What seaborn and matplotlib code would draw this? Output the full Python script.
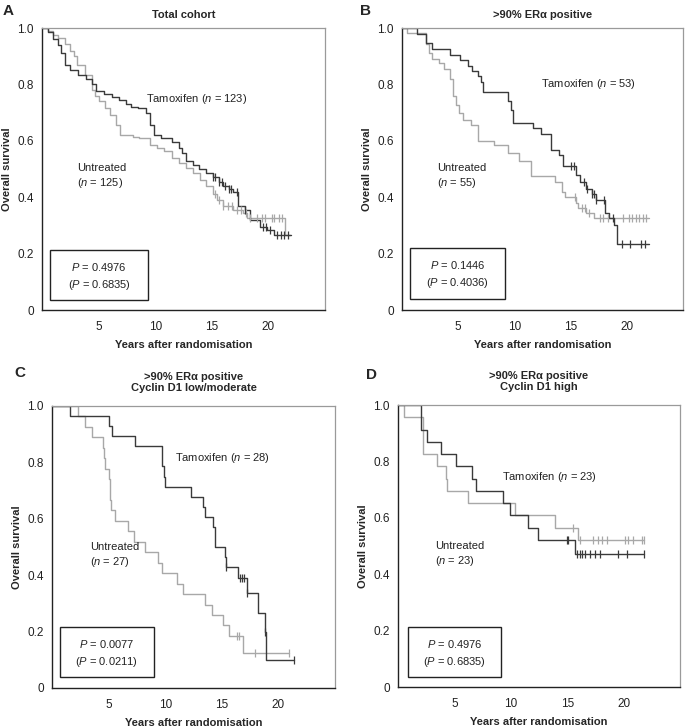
import numpy as np
import seaborn as sns
import matplotlib.pyplot as plt
from matplotlib.patches import Rectangle

sns.set_style("white")
plt.rcParams['font.family'] = ['Liberation Sans', 'DejaVu Sans']
plt.rcParams['mathtext.fontset'] = 'custom'
plt.rcParams['mathtext.rm'] = 'Liberation Sans'
plt.rcParams['mathtext.it'] = 'Liberation Sans:italic'

# Kaplan-Meier steps (time in years, survival after the step)
# A: total cohort
a_tam_t = [0, 0.5, 1.0, 1.4, 1.7, 2.0, 2.5, 3.2, 3.9, 4.4, 4.8, 5.5, 6.2, 6.8, 7.4, 7.9, 8.5, 9.2, 9.5, 9.9,
           10.5, 11.5, 12.1, 12.4, 12.7, 13.3, 13.9, 14.5, 15.1, 15.6, 16.0, 16.5, 16.9, 17.3, 17.9, 18.4,
           19.3, 19.9, 20.5, 22.0]
a_tam_s = [1.0, 0.985, 0.96, 0.94, 0.91, 0.87, 0.85, 0.835, 0.82, 0.80, 0.775, 0.765, 0.755, 0.745, 0.73,
           0.72, 0.715, 0.70, 0.655, 0.62, 0.61, 0.595, 0.575, 0.555, 0.53, 0.515, 0.50, 0.485, 0.47, 0.455,
           0.44, 0.43, 0.42, 0.37, 0.355, 0.32, 0.295, 0.285, 0.265, 0.265]
a_tam_cens = [15.1, 15.3, 15.6, 15.9, 16.2, 16.5, 16.7, 17.2, 17.9, 19.5, 19.8, 20.1, 20.8, 21.1, 21.4, 21.7]
a_unt_t = [0, 0.5, 1.0, 1.4, 2.0, 2.5, 2.8, 3.1, 3.8, 4.4, 4.7, 5.0, 5.6, 6.0, 6.5, 6.9, 8.0, 8.6, 9.5,
           10.2, 10.8, 11.5, 12.1, 12.7, 13.3, 14.0, 14.5, 15.1, 15.5, 16.0, 16.9, 17.8, 18.1, 21.5, 21.9]
a_unt_s = [1.0, 0.99, 0.975, 0.965, 0.945, 0.92, 0.9, 0.87, 0.835, 0.78, 0.76, 0.74, 0.715, 0.69, 0.655,
           0.62, 0.615, 0.61, 0.585, 0.575, 0.565, 0.54, 0.52, 0.505, 0.485, 0.46, 0.44, 0.41, 0.39, 0.37,
           0.355, 0.345, 0.325, 0.265, 0.265]
a_unt_cens = [15.3, 15.6, 16.0, 16.4, 16.8, 17.2, 17.6, 18.0, 18.4, 19.0, 19.4, 19.7, 20.3, 20.5, 20.9, 21.2]

# B: >90% ERa positive
b_tam_t = [0, 1.3, 2.1, 2.7, 4.3, 5.2, 5.9, 6.2, 6.8, 7.0, 7.2, 9.4, 9.7, 9.9, 11.65, 12.4, 13.3, 14.0,
           14.35, 15.5, 15.8, 16.4, 16.9, 17.3, 18.1, 18.4, 18.85, 19.1, 22.0]
b_tam_s = [1.0, 0.98, 0.946, 0.925, 0.906, 0.886, 0.866, 0.847, 0.83, 0.81, 0.773, 0.74, 0.71, 0.663,
           0.644, 0.624, 0.567, 0.55, 0.51, 0.479, 0.455, 0.43, 0.41, 0.39, 0.345, 0.326, 0.30, 0.235, 0.235]
b_tam_cens = [15.0, 15.3, 16.2, 16.5, 16.9, 17.1, 17.3, 18.0, 18.8, 19.6, 20.3, 21.3, 21.6]
b_unt_t = [0, 0.45, 2.1, 2.4, 2.7, 3.3, 3.7, 4.3, 4.5, 4.8, 5.05, 5.4, 6.1, 6.8, 8.2, 9.4, 10.4, 11.5,
           13.6, 14.2, 14.5, 15.5, 15.7, 16.4, 17.05, 22.0]
b_unt_s = [1.0, 0.982, 0.945, 0.91, 0.89, 0.875, 0.855, 0.82, 0.76, 0.727, 0.70, 0.674, 0.655, 0.60,
           0.585, 0.557, 0.53, 0.475, 0.455, 0.42, 0.40, 0.38, 0.36, 0.345, 0.325, 0.325]
b_unt_cens = [15.4, 16.0, 16.3, 16.6, 17.6, 17.9, 18.3, 19.7, 20.2, 20.5, 20.8, 21.1, 21.4, 21.7]

# C: >90% ERa positive, cyclin D1 low/moderate
c_tam_t = [0, 1.6, 5.0, 5.3, 7.3, 9.7, 9.85, 9.95, 12.3, 13.35, 13.5, 14.2, 14.4, 15.3, 15.4, 16.4,
           17.2, 18.2, 18.8, 18.9, 21.4]
c_tam_s = [1.0, 0.964, 0.929, 0.893, 0.857, 0.786, 0.75, 0.714, 0.678, 0.643, 0.607, 0.571, 0.50, 0.464,
           0.43, 0.39, 0.336, 0.265, 0.20, 0.10, 0.10]
c_tam_cens = [15.4, 16.6, 16.8, 17.0, 17.2, 18.8, 21.4]
c_unt_t = [0, 2.3, 2.9, 3.5, 4.5, 4.6, 4.7, 5.0, 5.1, 5.2, 5.6, 6.7, 7.2, 8.2, 9.4, 9.7, 11.0, 11.6,
           13.5, 14.1, 15.1, 15.6, 16.9, 20.9]
c_unt_s = [1.0, 0.963, 0.926, 0.889, 0.852, 0.815, 0.778, 0.741, 0.667, 0.63, 0.593, 0.556, 0.519,
           0.481, 0.444, 0.407, 0.370, 0.333, 0.296, 0.259, 0.222, 0.185, 0.123, 0.123]
c_unt_cens = [16.3, 16.5, 17.9, 20.9]

# D: >90% ERa positive, cyclin D1 high
d_tam_t = [0, 2.0, 2.6, 3.8, 5.15, 6.6, 6.9, 9.3, 9.9, 11.5, 12.4, 15.7, 21.8]
d_tam_s = [1.0, 0.913, 0.870, 0.826, 0.783, 0.739, 0.696, 0.652, 0.609, 0.565, 0.522, 0.47, 0.47]
d_tam_cens = [14.95, 15.1, 15.9, 16.1, 16.3, 16.6, 17.0, 17.5, 17.9, 19.5, 20.3, 21.8]
d_unt_t = [0, 0.55, 2.2, 3.5, 4.25, 4.3, 6.2, 10.4, 13.9, 15.95, 21.8]
d_unt_s = [1.0, 0.957, 0.826, 0.783, 0.739, 0.696, 0.652, 0.609, 0.565, 0.522, 0.522]
d_unt_cens = [15.5, 16.1, 17.3, 17.7, 18.1, 18.5, 20.1, 20.4, 20.8, 21.6, 21.8]

letters = ["A", "B", "C", "D"]
titles = ["Total cohort", ">90% ER\u03b1 positive",
          ">90% ER\u03b1 positive\nCyclin D1 low/moderate", ">90% ER\u03b1 positive\nCyclin D1 high"]
tam_n = [123, 53, 28, 23]
unt_n = [125, 55, 27, 23]
p_main = ["0.4976", "0.1446", "0.0077", "0.4976"]
p_paren = ["0.6835", "0.4036", "0.0211", "0.6835"]

curves = [
    (a_tam_t, a_tam_s, a_tam_cens, a_unt_t, a_unt_s, a_unt_cens),
    (b_tam_t, b_tam_s, b_tam_cens, b_unt_t, b_unt_s, b_unt_cens),
    (c_tam_t, c_tam_s, c_tam_cens, c_unt_t, c_unt_s, c_unt_cens),
    (d_tam_t, d_tam_s, d_tam_cens, d_unt_t, d_unt_s, d_unt_cens),
]

dark = "#3a3a3a"
light = "#a8a8a8"

fig = plt.figure(figsize=(6.85, 7.28), dpi=100)
W, H = 685, 728
# axes boxes in pixels: left, top, right, bottom
boxes = [(42, 28, 325, 310), (402, 28, 683, 310), (52, 406, 335, 688), (398, 405, 680, 687)]
letter_pos = [(3, 4), (360, 4), (14, 366), (366, 368)]
# text positions (data units)
tam_lab = [(9.2, 0.75), (12.4, 0.80), (10.9, 0.815), (9.25, 0.743)]
unt_lab = [(3.1, 0.475), (3.1, 0.475), (3.35, 0.47), (3.3, 0.47)]
box_pos = [(0.7, 0.035, 8.7, 0.178), (0.7, 0.04, 8.5, 0.18), (0.7, 0.04, 8.3, 0.177), (0.85, 0.035, 8.3, 0.178)]


def surv_at(times, surv, pts):
    idx = np.searchsorted(times, pts, side='right') - 1
    return np.array(surv)[idx]


def draw_km(ax, t, s, cens, color):
    sns.lineplot(x=t, y=s, ax=ax, color=color, drawstyle='steps-post', estimator=None, lw=1.0)
    sns.scatterplot(x=cens, y=surv_at(t, s, cens), ax=ax, marker='|', s=30, color=color,
                    linewidth=0.9, zorder=3)


for i in range(4):
    l, t, r, b = boxes[i]
    ax = fig.add_axes([l / W, 1 - b / H, (r - l) / W, (b - t) / H])
    tt, ts, tc, ut, us, uc = curves[i]
    draw_km(ax, ut, us, uc, light)
    draw_km(ax, tt, ts, tc, dark)

    ax.set_xlim(0, 25)
    ax.set_ylim(0, 1.0)
    ax.set_xticks([0, 5, 10, 15, 20, 25])
    ax.set_xticklabels(["", "5", "10", "15", "20", ""])
    ax.set_yticks([0, 0.2, 0.4, 0.6, 0.8, 1.0])
    ax.set_yticklabels(["0", "0.2", "0.4", "0.6", "0.8", "1.0"])
    ax.tick_params(axis='both', which='major', direction='out', length=3, width=1,
                   labelsize=8.5, colors='#222222')
    ax.tick_params(axis='x', pad=5)
    ax.tick_params(axis='y', pad=3)
    for side in ['left', 'bottom']:
        ax.spines[side].set_color('#222222')
        ax.spines[side].set_linewidth(1.0)
    for side in ['top', 'right']:
        ax.spines[side].set_color('#9a9a9a')
        ax.spines[side].set_linewidth(0.9)

    ax.set_xlabel("Years after randomisation", fontsize=8, fontweight='bold', labelpad=5)
    ax.set_ylabel("Overall survival", fontsize=8, fontweight='bold', labelpad=4)
    ax.set_title(titles[i], fontsize=8, fontweight='bold', pad=11 if i > 1 else 7, linespacing=1.15)

    ax.text(tam_lab[i][0], tam_lab[i][1], "Tamoxifen ($n$ = %d)" % tam_n[i], fontsize=8,
            va='center', ha='left', color='#222222')
    ax.text(unt_lab[i][0], unt_lab[i][1], "Untreated\n($n$ = %d)" % unt_n[i], fontsize=8,
            va='center', ha='left', color='#222222', linespacing=1.3)

    bx, by, bw, bh = box_pos[i]
    ax.add_patch(Rectangle((bx, by), bw, bh, fill=False, edgecolor='#222222', lw=1.0, zorder=4))
    ax.text(bx + bw / 2, by + bh * 0.66, "$P$ = %s" % p_main[i], fontsize=8, ha='center', va='center',
            color='#222222')
    ax.text(bx + bw / 2, by + bh * 0.30, "($P$ = %s)" % p_paren[i], fontsize=8, ha='center', va='center',
            color='#222222')

    fig.text(letter_pos[i][0] / W, 1 - letter_pos[i][1] / H, letters[i], fontsize=11, fontweight='bold',
             ha='left', va='top')

fig.savefig("out.png", dpi=100)
